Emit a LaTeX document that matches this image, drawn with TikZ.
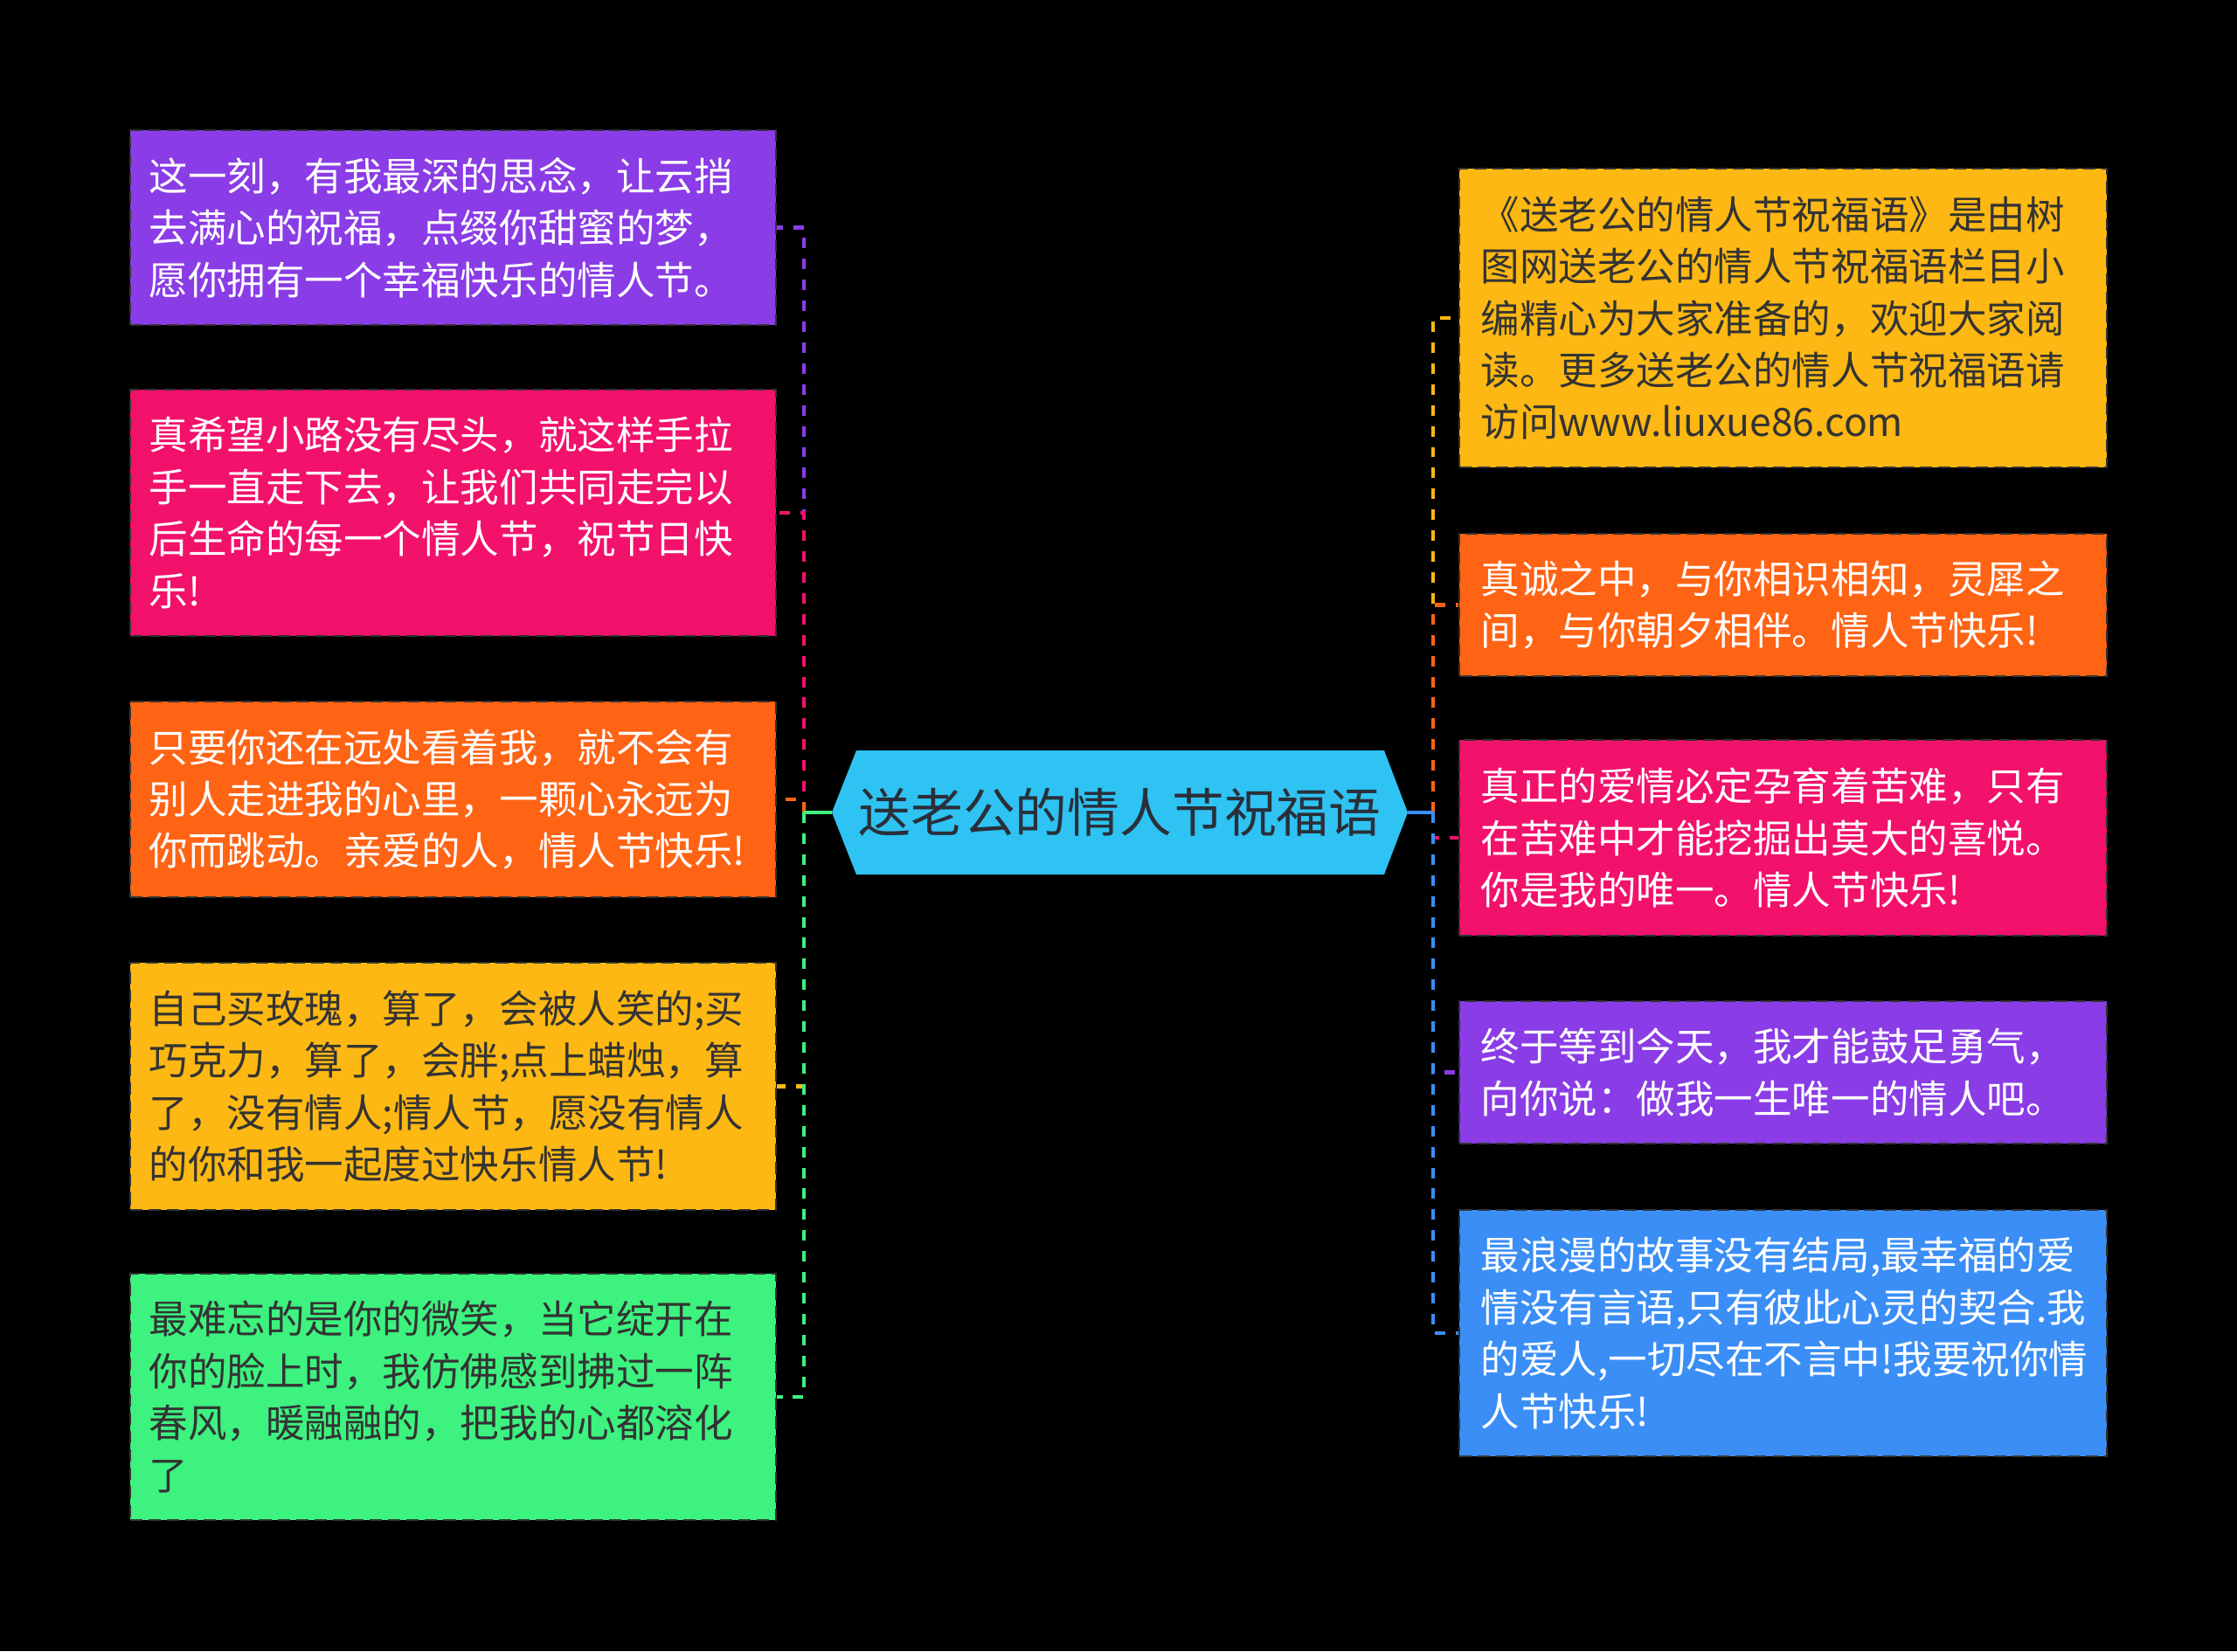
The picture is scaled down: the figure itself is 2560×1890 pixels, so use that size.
\documentclass[tikz,border=0pt]{standalone}
\usepackage{fontspec}
\newfontfamily\cjk{Noto Sans CJK SC}
\definecolor{cPurple}{HTML}{8A3CE6}
\definecolor{cPink}{HTML}{F2116B}
\definecolor{cOrange}{HTML}{FF6314}
\definecolor{cYellow}{HTML}{FDB813}
\definecolor{cGreen}{HTML}{3DF27F}
\definecolor{cBlue}{HTML}{3A8EF6}
\definecolor{cCyan}{HTML}{2EC3F2}
\definecolor{cDark}{HTML}{333333}
\definecolor{cCenterText}{HTML}{2A2F3A}
\tikzset{
  msgbox/.style={rectangle, draw=black!80, line width=0.6pt, dash pattern=on 4pt off 2pt,
    inner xsep=0pt, inner ysep=0pt, align=left,
    font=\cjk\fontsize{12.66pt}{16.9pt}\selectfont},
  lbox/.style={msgbox, minimum width=7.39cm, text width=6.95cm},
  rbox/.style={msgbox, minimum width=7.41cm, text width=6.91cm},
  conn/.style={line width=1.4pt, dash pattern=on 3.4pt off 3.4pt},
  stub/.style={line width=1.4pt},
}
\begin{document}
\begin{tikzpicture}[x=0.01cm,y=-0.01cm]
\useasboundingbox (0,0) rectangle (2560,1890);
\fill[black] (0,0) rectangle (2560,1890);

% center
\fill[cCyan] (952,930) -- (980,859) -- (1584,859) -- (1611,930) -- (1584,1001) -- (980,1001) -- cycle;
\node[font=\cjk\fontsize{17pt}{20pt}\selectfont, text=cCenterText] (C) at (1281.5,930) {送老公的情人节祝福语};
\coordinate (cl) at (952,930);
\coordinate (cr) at (1611,930);
\coordinate (jl) at (920,930);
\coordinate (jr) at (1640,930);

% left boxes
\node[lbox, fill=cPurple, text=white, minimum height=2.23cm] (L1) at (518.5,260.5)
 {这一刻，有我最深的思念，让云捎\\去满心的祝福，点缀你甜蜜的梦，\\愿你拥有一个幸福快乐的情人节。};
\node[lbox, fill=cPink, text=white, minimum height=2.82cm] (L2) at (518.5,587)
 {真希望小路没有尽头，就这样手拉\\手一直走下去，让我们共同走完以\\后生命的每一个情人节，祝节日快\\乐!};
\node[lbox, fill=cOrange, text=white, minimum height=2.24cm] (L3) at (518.5,915)
 {只要你还在远处看着我，就不会有\\别人走进我的心里，一颗心永远为\\你而跳动。亲爱的人，情人节快乐!};
\node[lbox, fill=cYellow, text=cDark, minimum height=2.83cm] (L4) at (518.5,1243.5)
 {自己买玫瑰，算了，会被人笑的;买\\巧克力，算了，会胖;点上蜡烛，算\\了，没有情人;情人节，愿没有情人\\的你和我一起度过快乐情人节!};
\node[lbox, fill=cGreen, text=cDark, minimum height=2.82cm] (L5) at (518.5,1599)
 {最难忘的是你的微笑，当它绽开在\\你的脸上时，我仿佛感到拂过一阵\\春风，暖融融的，把我的心都溶化\\了};

% right boxes
\node[rbox, fill=cYellow, text=cDark, minimum height=3.42cm] (R1) at (2040.5,364)
 {《送老公的情人节祝福语》是由树\\图网送老公的情人节祝福语栏目小\\编精心为大家准备的，欢迎大家阅\\读。更多送老公的情人节祝福语请\\访问www.liuxue86.com};
\node[rbox, fill=cOrange, text=white, minimum height=1.63cm] (R2) at (2040.5,692.5)
 {真诚之中，与你相识相知，灵犀之\\间，与你朝夕相伴。情人节快乐!};
\node[rbox, fill=cPink, text=white, minimum height=2.24cm] (R3) at (2040.5,959)
 {真正的爱情必定孕育着苦难，只有\\在苦难中才能挖掘出莫大的喜悦。\\你是我的唯一。情人节快乐!};
\node[rbox, fill=cPurple, text=white, minimum height=1.63cm] (R4) at (2040.5,1227.5)
 {终于等到今天，我才能鼓足勇气，\\向你说：做我一生唯一的情人吧。};
\node[rbox, fill=cBlue, text=white, minimum height=2.82cm] (R5) at (2040.5,1526)
 {最浪漫的故事没有结局,最幸福的爱\\情没有言语,只有彼此心灵的契合.我\\的爱人,一切尽在不言中!我要祝你情\\人节快乐!};

% connectors left
\draw[conn, draw=cPurple] (jl) |- (L1.east);
\draw[conn, draw=cPink] (jl) |- (L2.east);
\draw[conn, draw=cOrange] (jl) |- (L3.east);
\draw[conn, draw=cYellow] (jl) |- (L4.east);
\draw[conn, draw=cGreen] (jl) |- (L5.east);
\draw[stub, draw=cGreen] (cl) -- (jl);

% connectors right
\draw[conn, draw=cYellow] (jr) |- (R1.west);
\draw[conn, draw=cOrange] (jr) |- (R2.west);
\draw[conn, draw=cPink] (jr) |- (R3.west);
\draw[conn, draw=cPurple] (jr) |- (R4.west);
\draw[conn, draw=cBlue] (jr) |- (R5.west);
\draw[stub, draw=cBlue] (cr) -- (jr);
\end{tikzpicture}
\end{document}
